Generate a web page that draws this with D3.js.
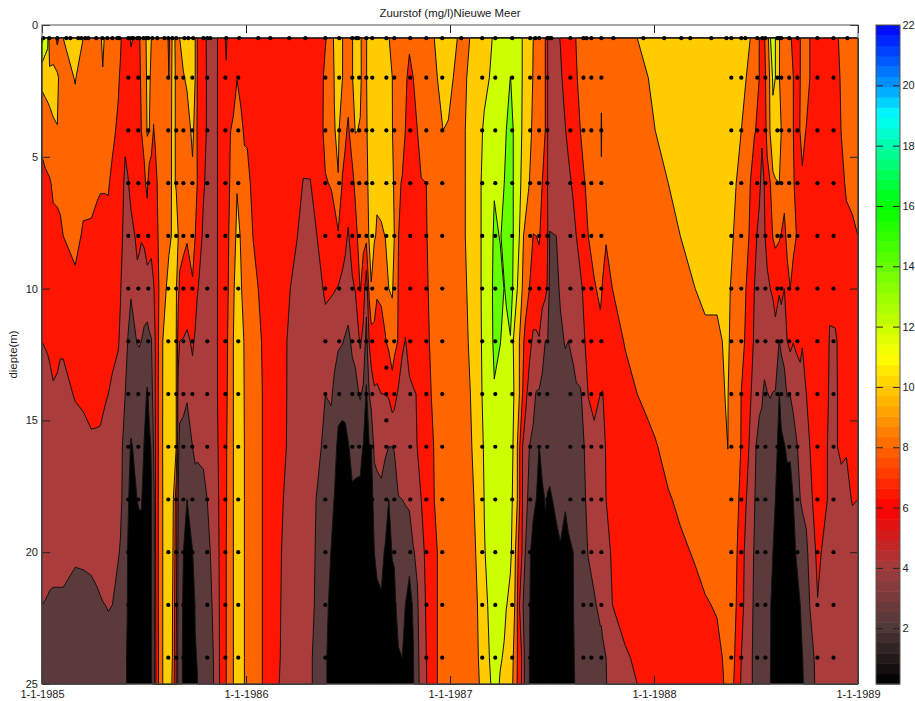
<!DOCTYPE html>
<html>
<head>
<meta charset="utf-8">
<script src="https://cdn.jsdelivr.net/npm/d3@7"></script>
<style>
  html, body { margin: 0; background: #fff; }
  text { font-family: "Liberation Sans", Arial, sans-serif; fill: #222; }
</style>
</head>
<body>
<div id="chart"></div>
<script>
var width = 915;
var height = 701;
var margin = {top: 25, right: 57, bottom: 17, left: 42};

var title = "Zuurstof (mg/l)Nieuwe Meer";
var yLabel = "diepte(m)";
var yearTicks = [1985, 1986, 1987, 1988, 1989];
var depthTicks = [0, 5, 10, 15, 20, 25];
var barTicks = [2, 4, 6, 8, 10, 12, 14, 16, 18, 20, 22];

// contour levels and the fill of the band above each one
var levels = [0, 2, 4, 6, 8, 10, 12, 14];
var levelColors = ["#000000", "#5a3a3a", "#aa3c3c", "#ff1500", "#ff6600", "#ffcc00", "#ccff00", "#66ff00"];

// colormap of the bar
var barStops = [0.2, 2, 4, 6, 8, 10, 11, 12, 14, 16, 18, 19, 20, 22];
var barColors = ["#000000", "#4d3838", "#a03c3c", "#ff0000", "#ff6600", "#ffcc00", "#ffff00", "#ccff00", "#66ff00", "#00ff00", "#00ffaa", "#00ffff", "#0099ff", "#0000ff"];

// where the oxygen was sampled
var sampleDepths = [2, 4, 6, 8, 10, 12, 14, 16, 18, 20, 22, 24];
var sampleYears = [1985.423, 1985.472, 1985.521, 1985.619, 1985.658, 1985.693, 1985.737, 1985.810, 1985.899, 1985.962,
  1986.389, 1986.457, 1986.521, 1986.555, 1986.590, 1986.619, 1986.688, 1986.727, 1986.805, 1986.884, 1986.962,
  1987.158, 1987.222, 1987.305, 1987.393, 1987.437, 1987.477, 1987.590, 1987.654, 1987.693, 1987.742,
  1988.379, 1988.428, 1988.506, 1988.546, 1988.605, 1988.624, 1988.663, 1988.703, 1988.801, 1988.880];
var surfaceYears = [1985.006, 1985.036, 1985.075, 1985.119, 1985.139, 1985.178, 1985.193, 1985.212, 1985.227, 1985.266,
  1985.296, 1985.320, 1985.345, 1985.369, 1985.379, 1985.423, 1985.438, 1985.448, 1985.467, 1985.477, 1985.497, 1985.511,
  1985.521, 1985.541, 1985.565, 1985.600, 1985.619, 1985.639, 1985.658, 1985.698, 1985.717, 1985.741, 1985.791, 1985.810,
  1985.825, 1985.903, 1985.967, 1986.060, 1986.119, 1986.212, 1986.291, 1986.389, 1986.457, 1986.521, 1986.540, 1986.550,
  1986.590, 1986.619, 1986.688, 1986.727, 1986.805, 1986.884, 1986.962, 1987.055, 1987.158, 1987.222, 1987.305, 1987.393,
  1987.418, 1987.437, 1987.477, 1987.487, 1987.497, 1987.590, 1987.654, 1987.669, 1987.693, 1987.742, 1987.801, 1987.948,
  1988.050, 1988.134, 1988.178, 1988.281, 1988.355, 1988.379, 1988.428, 1988.448, 1988.506, 1988.531, 1988.546, 1988.605,
  1988.614, 1988.624, 1988.663, 1988.703, 1988.801, 1988.880, 1988.948];
var surfaceDepth = 0.5;
var extraYear = 1986.688;
var extraDepths = [13, 15];

// oxygen: one profile per date, one value per depth
var depths = [0.5, 2, 4, 6, 8, 10, 12, 14, 16, 18, 20, 22, 24, 25];
var profileYears = [1985.000, 1985.016, 1985.028, 1985.037, 1985.055, 1985.075, 1985.090, 1985.104, 1985.163, 1985.202,
  1985.242, 1985.271, 1985.286, 1985.298, 1985.310, 1985.325, 1985.345, 1985.359, 1985.374, 1985.384,
  1985.394, 1985.408, 1985.421, 1985.436, 1985.467, 1985.477, 1985.487, 1985.501, 1985.516, 1985.526,
  1985.536, 1985.547, 1985.555, 1985.570, 1985.592, 1985.609, 1985.622, 1985.634, 1985.639, 1985.658,
  1985.668, 1985.675, 1985.693, 1985.711, 1985.738, 1985.751, 1985.761, 1985.791, 1985.810, 1985.840,
  1985.854, 1985.869, 1985.894, 1985.903, 1985.913, 1985.923, 1985.938, 1985.956, 1985.975, 1985.992,
  1986.006, 1986.036, 1986.060, 1986.080, 1986.119, 1986.168, 1986.198, 1986.217, 1986.251, 1986.281,
  1986.315, 1986.335, 1986.369, 1986.389, 1986.418, 1986.433, 1986.452, 1986.472, 1986.487, 1986.501,
  1986.521, 1986.536, 1986.560, 1986.575, 1986.590, 1986.604, 1986.614, 1986.629, 1986.642, 1986.663,
  1986.683, 1986.700, 1986.717, 1986.727, 1986.747, 1986.766, 1986.781, 1986.801, 1986.820, 1986.840,
  1986.859, 1986.884, 1986.908, 1986.923, 1986.938, 1986.966, 1986.992, 1987.016, 1987.036, 1987.075,
  1987.100, 1987.139, 1987.154, 1987.168, 1987.193, 1987.207, 1987.217, 1987.246, 1987.266, 1987.276,
  1987.296, 1987.310, 1987.330, 1987.340, 1987.354, 1987.369, 1987.389, 1987.408, 1987.423, 1987.437,
  1987.452, 1987.467, 1987.479, 1987.489, 1987.521, 1987.541, 1987.565, 1987.580, 1987.604, 1987.619,
  1987.639, 1987.658, 1987.678, 1987.707, 1987.737, 1987.742, 1987.747, 1987.765, 1987.796, 1987.859,
  1987.918, 1987.972, 1988.006, 1988.070, 1988.129, 1988.202, 1988.251, 1988.309, 1988.335, 1988.350,
  1988.362, 1988.369, 1988.389, 1988.403, 1988.428, 1988.452, 1988.472, 1988.492, 1988.516, 1988.529,
  1988.541, 1988.555, 1988.570, 1988.583, 1988.595, 1988.614, 1988.624, 1988.639, 1988.653, 1988.668,
  1988.683, 1988.698, 1988.717, 1988.727, 1988.747, 1988.764, 1988.786, 1988.802, 1988.820, 1988.850,
  1988.861, 1988.889, 1988.899, 1988.918, 1988.943, 1988.973, 1989.000];
var profiles = [
  [14.5,10.5,8.5,7.5,7,6.5,6,5.7,5.3,4.9,4.5,4,3.5,3.3],
  [13,10.6,9,7.6,7.1,6.6,6.05,5.7,5.3,4.9,4.5,3.95,3.5,3.3],
  [12.5,10.6,9.3,7.7,7.1,6.7,6.1,5.7,5.3,4.9,4.45,3.9,3.5,3.3],
  [8.5,10.6,9.5,7.8,7.2,6.8,6.2,5.7,5.3,4.9,4.4,3.85,3.5,3.3],
  [9,10.5,9.83,8.3,7.5,7.2,6.6,5.8,5.4,5,4.4,3.8,3.5,3.3],
  [7.5,10.4,9.95,8.5,7.4,7,6.3,5.8,5.4,5,4.4,3.8,3.5,3.3],
  [8.5,9.4,9.5,8.6,7.6,7.1,6.15,5.7,5.3,4.9,4.4,3.8,3.5,3.3],
  [10,9.2,9,8.5,8,7,6.2,5.6,5.3,4.9,4.4,3.8,3.5,3.3],
  [11,10.1,9.3,8.9,8.5,7.6,6.7,6.1,5.4,5,4.2,3.5,3.1,3],
  [10,9,8.8,8.5,7.8,7.1,6.5,6.2,5.6,5,4.2,3.6,3.1,3],
  [9.3,9,8.8,8.4,7.8,7.3,6.9,6.4,5.8,5.2,4.4,3.5,3.1,3],
  [9.3,9,8.7,8.2,7.6,7.2,6.8,6.35,5.8,5.3,4.6,3.7,3.1,3],
  [9.4,9.1,8.7,8.1,7.6,7.2,6.8,6.3,5.8,5.3,4.7,3.85,3.1,3],
  [10.8,9.7,8.7,8.1,7.6,7.2,6.8,6.2,5.7,5.2,4.7,3.95,3.1,3],
  [9.4,9.1,8.7,8.1,7.6,7.1,6.7,6.1,5.6,5.1,4.7,4,3.1,3],
  [9.3,9,8.7,8.15,7.5,7,6.5,6,5.4,5,4.6,4.1,3.3,3],
  [9.2,8.9,8.4,7.6,7,6.7,6.3,5.8,5.3,4.9,4.5,4,3.2,3],
  [9.1,8.6,8.05,7.3,6.9,6.6,6.2,5.7,5.2,4.8,4.3,3.8,3,2.8],
  [9,8.3,7.6,7.1,6.7,6.4,6.1,5.5,5,4.6,4.1,3.5,2.8,2.6],
  [8.4,7.7,7.2,6.9,6.5,6.1,5.8,5.3,4.8,4.3,3.9,3.2,2.6,2.5],
  [7.5,7,6.7,6.5,6.05,5.7,5.3,4.7,4,3.9,3.3,2.7,2.3,2.2],
  [7.3,7,6.5,5.5,5.2,5,4.6,4,3.4,3,2.8,2.4,2.1,2.1],
  [7.4,7,6.6,5.9,5.1,4.5,3.95,3.5,2.8,2.2,1.9,1.9,1.9,1.9],
  [8.2,7.3,6.9,6.4,5.6,4.1,3.6,3,1.8,1.4,1.4,1.4,1.4,1.4],
  [7.6,7.1,6.8,6.5,6.25,5.7,4.05,3.3,2.6,2.02,1.5,1.2,1.2,1.2],
  [7.8,7.6,7.3,6.8,6.2,5.6,4.1,3.2,2.8,2.1,1.6,1.3,1.3,1.3],
  [8.6,8.3,8,7.2,6.1,5.3,4,3.2,2.9,2.1,1.6,1.3,1.3,1.3],
  [8.8,8.5,8.4,7.7,6.3,5,3.6,2.6,1.9,1.5,1.3,1.3,1.3,1.3],
  [10.8,10.5,10.2,8.4,7,5.2,3.3,1.8,1.2,1.2,1.2,1.2,1.2,1.2],
  [10.6,10.3,10,6.8,6.7,5.3,3.7,2.4,1.7,1.4,1.4,1.4,1.4,1.4],
  [10,9.6,9,6.9,6.3,5.6,3.9,3.5,2.1,1.9,1.9,1.9,1.9,1.9],
  [9.4,8.8,7.9,7.2,6.6,5.9,5,4.5,4.1,3,2.8,2.7,2.6,2.6],
  [9,8.9,8.3,7.3,6.9,6.3,6,6,5.9,5.8,5.7,5.6,5.5,5.5],
  [8.9,8.8,8.6,8.4,8.1,7.8,7.9,8,8,8,8,8,7.9,7.9],
  [9,9,8.9,8.9,9,9.3,10,10.02,10.05,10,10,10,10,10],
  [9,9.1,9,9.2,9.3,10,10.8,11,11,11,11,11,11,11],
  [7.5,8,9.2,9.4,9.7,10.5,11,11.1,11.1,11.1,11.1,11.1,11,11],
  [9.5,9.8,9.9,9.95,10,10.8,11.1,11.2,11.2,11,10.8,10.5,10.3,10.2],
  [10.2,10.3,10.3,10.3,10.2,11,11.2,11.3,11.2,11,10.6,10.2,10,9.8],
  [9.9,9.9,9.9,9.9,10.6,10.2,10,10,10,7,6.7,6.4,6,6],
  [9,9,9,9.1,10,8.4,7,5,4.4,3.9,3.5,3.4,3.3,3.3],
  [10,9.3,9.2,9.2,8.6,7.7,6,4.6,3.5,3,2.9,2.8,2.8,2.8],
  [10.5,9.9,9.2,9.1,8.3,7.5,5.9,4.3,3.6,2.9,2,1.8,1.7,1.7],
  [10.6,10.2,9.4,8.8,8.1,7.4,5.6,4.1,3.5,2,1.2,1,1,1],
  [10.8,10.5,10.3,9.7,8.7,7.8,6.3,5.2,4,3.3,1.95,1.2,1.1,1.1],
  [10,10,9.5,8.9,8,7,5.7,5,4.2,3.6,2.8,2.1,1.9,1.8],
  [8,8,7.8,8,7.2,6.1,5.5,4.9,4.2,3.5,3,2.5,2.05,1.95],
  [7,7.2,7,6.2,5.7,5.5,5.2,4.9,4.3,3.6,3.5,3.3,3.1,3],
  [5.6,5.7,5.7,5.6,5.5,5.4,5.2,5,4.7,4,3.6,3.3,3.1,3],
  [5.3,5.2,5.2,5.2,5.2,5.2,5.1,5,4.9,4.6,4.4,4.2,4,3.9],
  [5.8,5.8,5.8,5.8,5.8,5.8,5.8,5.8,5.7,5.6,5.5,5.4,5.3,5.3],
  [6.3,6.3,6.3,6.3,6.3,6.3,6.3,6.3,6.2,6.1,6.05,6,5.95,5.9],
  [7.5,7.4,7.2,7.1,7.2,7.3,7.4,7.4,7.4,7.4,7.4,7.4,7.4,7.4],
  [8.5,7.6,7.4,7.4,7.6,7.7,7.8,7.8,7.9,7.9,8,8,8,8],
  [7,7.1,7.2,7.3,7.8,8,8.1,8.2,8.3,8.4,8.5,8.5,8.5,8.5],
  [6.8,7,7.95,8.3,8.6,8.7,8.9,9,9.1,9.2,9.3,9.3,9.3,9.3],
  [6.8,7.2,8.3,8.7,9.2,9.7,10,10,10,10,10,10,10,10],
  [6.7,7.95,9,9.9,10.4,11,11,11,11,11,11,11,11,11],
  [6.8,7.5,8.4,8.8,9.9,10.1,10.6,10.7,10.8,10.9,11,11,11,11],
  [6.6,7.2,7.8,8.5,9,9.6,9.9,9.95,10,10,10,10,10,10],
  [6.5,7,7.85,8.3,8.6,9.2,9.4,9.4,9.5,9.5,9.5,9.5,9.5,9.5],
  [6.5,6.9,7.3,7.7,7.95,8.4,8.9,9,9,9,9,9,9,9],
  [6.5,6.7,6.9,7.2,7.5,8,8.4,8.5,8.6,8.6,8.6,8.6,8.6,8.6],
  [6.5,6.6,6.8,6.9,7.1,7.5,7.9,8,8,8,8,8,8,8],
  [6.5,6.6,6.7,6.8,6.9,7,7.2,7.3,7.3,7.2,7,6.8,6.5,6.4],
  [6.5,6.5,6.6,6.7,6.7,6.6,6.5,6.4,6.3,6.2,6.1,6.05,6,5.95],
  [6.5,6.5,6.5,6.5,6.4,6.3,6.05,6.05,6,5.8,5.6,5.5,5.4,5.3],
  [6.5,6.5,6.5,6.4,6.3,6,5.7,5.6,5.5,5.3,5.2,5,4.9,4.8],
  [6.6,6.6,6.5,6.4,6.02,5.6,5.3,5.2,5.1,5,4.9,4.8,4.6,4.5],
  [6.7,6.6,6.5,5.95,5.5,5.1,5,5,4.9,4.8,4.6,4.5,4.4,4.3],
  [6.8,6.8,6.6,5.95,5.6,5.2,5,4.8,4.6,4.4,4.3,4.2,4.1,4.1],
  [7.1,7,6.8,6.4,5.7,5.2,4.9,4.4,4.2,4.1,4.05,4,3.9,3.9],
  [7.6,7.7,7.7,7.7,6.5,5.8,5,4.5,4,3.7,3.6,3.5,3.4,3.4],
  [7.9,8.3,8.4,7.9,7.1,6.3,5.3,4.02,3.2,2.9,2.6,2.4,2.2,2.2],
  [8.6,8.8,8.9,8.1,7.3,6.15,5.2,4.2,3.3,2.4,1.95,1.6,1.4,1.4],
  [10.6,10.1,9.9,8.4,7.5,6.1,4.6,3.6,2.6,1.95,1.4,1.2,1,1],
  [11,10.8,10.4,9.9,7.8,5.9,4.3,2.6,1.6,1.2,1.1,1,1,1],
  [10.1,10.1,8.6,7.9,6.6,5.7,4.1,2.5,1.5,1.2,1.1,1,1,1],
  [9.2,9.1,8.2,7.6,6.4,5.3,3.8,2.6,1.5,1.2,1.1,1,1,1],
  [8.8,8.6,7.8,7,5.8,4.9,3.6,2.9,1.9,1.5,1.2,1.1,1.1,1.1],
  [9.9,9.9,8.7,7.6,6.9,5.7,4.3,3.3,2.4,1.8,1.3,1.1,1.1,1.1],
  [10.8,10.8,10.1,8.3,7.5,6.1,4.5,3.5,2.3,1.8,1.3,1.1,1.1,1.1],
  [10.3,10.3,9.9,8.9,8.7,8.1,6.3,4.2,2.5,1.6,1.2,1.1,1.1,1.1],
  [9.3,9.4,9.3,9.2,8.4,7.2,5.3,3.7,1.9,1.3,1.1,1.1,1.1,1.1],
  [9.9,9.9,9.7,9.1,8.5,4.7,3.4,1.7,1.2,1.1,1.1,1.1,1.1,1.1],
  [10.9,10.9,10.9,10.8,10.3,8.5,6.1,4,1.9,1.3,1.1,1.1,1.1,1.1],
  [11,11,11,10.9,10.7,9.9,7.1,4.9,1.9,1.3,1.2,1.1,1.1,1.1],
  [11.2,11.2,11.1,11,10.2,8.5,7.7,5.7,4.6,2.6,2,1.2,1.1,1.1],
  [11.2,11.3,11,10.3,9.8,8.2,7.2,5.7,4.5,3.4,2.9,1.1,1.1,1.1],
  [11.1,11.2,11,10.8,9.7,8.2,7.6,6,4.6,3.6,2.5,1.8,1.4,1.3],
  [10.8,11,11,10.8,10.05,8.6,7.9,6,4.3,2.9,1.8,1.2,1.1,1.1],
  [10.05,10.5,10.7,10.5,10.2,10,8.4,6.2,4,2,1.3,1.1,1.1,1.1],
  [9.6,10,10.05,10.3,10.5,10.2,9.1,7.1,4,3.3,2.1,1.4,1.3,1.3],
  [9.2,9.5,9.6,9.8,10,9.4,8.5,6.8,4.1,3.1,2.2,1.5,1.2,1.1],
  [9,9.2,9.1,8.2,8.05,7.9,7.9,5.7,4.7,3.95,3.3,2.8,1.8,1.7],
  [9,9.1,8.6,7.9,7.2,7,6.3,5.2,4.5,4,3.5,2.9,2,1.9],
  [9,8.2,8,7.6,7,6.6,5.95,5.5,4.9,4.05,3.6,2,1.7,1.6],
  [8.2,7.7,7.3,7,6.8,6.6,6.4,5.8,5,4.4,2.5,1.4,1.2,1.2],
  [9,8,7.8,7.5,7.3,7,6.7,5.9,5.3,4.8,3.9,2.2,1.9,1.8],
  [9.5,8.8,8,7.6,7.4,7.2,6.8,6.05,6.05,5,4.3,3.8,3.5,3.4],
  [9.7,9.3,8.9,7.9,7.6,7.4,7.2,6.9,6.5,6,5.4,5,4.8,4.7],
  [9.8,9.6,9.2,8,7.9,7.7,7.5,7.1,7,6.7,6.4,6.2,6,5.9],
  [9.9,9.7,9.5,8.8,8.6,8.5,8.3,8,7.6,7.4,7.3,7.1,7,7],
  [10,9.8,9.5,9.1,8.9,8.7,8.6,8.3,8.1,8,7.8,7.6,7.4,7.4],
  [10.2,10,9.6,9.2,9,9,8.9,8.7,8.5,8.2,8,8,8,8],
  [10.8,10.4,10,9.5,9.3,9.2,9.2,9,9,9,9,9,9,9],
  [11,10.4,9.9,9.5,9.3,9.2,9.2,9.1,9,9,9,9,9,9],
  [10.6,10,9.5,9.3,9.2,9.2,9.2,9.2,9.1,9.1,9,9,9,9],
  [10,9.6,9.3,9.2,9.2,9.2,9.2,9.2,9.1,9.1,9,9,9,9],
  [9.3,9.8,10,10,10,9.8,9.6,9.4,9.3,9.2,9.1,9,8.9,8.9],
  [10.1,10.5,10.6,10.6,10.6,10.5,10.3,10,9.8,9.6,9.4,9.2,9,9],
  [10.4,11,11.5,11.6,11.6,11.6,11.4,11.1,10.9,10.5,10.3,10.1,10,9.9],
  [10.6,11.2,11.8,12.05,12.05,12.05,12,11.9,11.6,11.2,11,10.6,10.3,10.2],
  [10.8,11.5,12.3,12.5,12.6,12.6,12.5,12.4,12.2,12.05,11.9,11.4,10.9,10.7],
  [11.7,12,12.8,13,13,13,12.8,12.8,12.8,12.6,12.5,12.3,12,11.7],
  [12,12.4,13,13.4,13.7,13.9,13.8,13.4,13.2,13,12.9,12.7,12.5,12.3],
  [12.3,12.6,13.2,13.8,14.4,14.8,14.5,13.8,13.4,13.2,13,12.9,12.7,12.5],
  [12.5,13,13.5,13.9,13.9,14.6,14.05,13.4,13.1,12.8,12.6,12.4,12.1,11.9],
  [12.6,13.2,13.8,14,14.4,13.95,13.6,13.2,13,12.8,12.5,12.2,11.9,11.7],
  [12.7,13.4,14,14.4,14.8,14.2,13.6,13.2,13,12.8,12.4,12.05,11.4,11.2],
  [13.2,14.02,14.8,15,15,14.4,13.95,13.2,12.9,12.6,12.2,11.7,11,10.9],
  [13,13.8,14,14,14,13.9,12,12.2,11.9,11.7,11.6,11.2,10,9.8],
  [13,13,13,12.8,12.2,12,11,11,10,10,8.6,8,8,7.9],
  [12.8,12.8,12.6,12.4,12,11.5,10,10,8.3,8.3,7.2,6.1,6.9,6.8],
  [12,12,11.9,11.6,10.3,10,8.8,8.2,6.1,6.1,5.9,4.2,5.8,5.7],
  [11.4,11.3,11.1,10.9,9.6,9.2,7.3,6.6,5.2,4.9,4,3.5,3.2,3.2],
  [10.8,10.7,10.4,10,9.2,8,6.6,5.2,4,3.3,2.2,2.1,2,2],
  [10,9.9,9.7,9.2,7.95,7.4,5.6,4.4,3.7,2.3,1.5,1.4,1.3,1.3],
  [9.4,9.4,9.2,8.7,8,7.1,5.7,3.9,3,2,1.2,1.1,1.1,1.1],
  [9,9,8.9,8.5,8.2,7,5.9,3.8,1.95,1.2,1.1,1.1,1.1,1.1],
  [8.9,8.8,8.6,8,7.3,6.7,4.8,3.5,2.7,1.6,1.1,1.1,1.1,1.1],
  [8,8,8,7.4,6.8,6.5,4,3.1,2.4,2.1,1.6,1.1,1.1,1.1],
  [6,6,6,5.9,6.05,5.8,3.9,3.2,2.6,1.9,1.5,1.1,1.1,1.1],
  [5.6,5.6,5.5,5,3.9,3.4,3.3,3,2.6,1.8,1.5,1.1,1.1,1.1],
  [5.7,5.4,5.2,4.9,4,3.6,3.3,2.9,2.5,2.3,1.6,1.1,1.1,1.1],
  [6.05,5.8,5.3,5,4.6,4.2,3.7,3.1,2.7,2.4,1.9,1.2,1.1,1.1],
  [6.8,6.4,5.95,5.4,5,4.6,4.1,3.4,2.8,2.15,1.5,1.1,1.1,1.1],
  [7,6.8,6.3,5.7,5.2,4.8,4,3.6,3.1,2.5,1.7,1.2,1.1,1.1],
  [7.7,7.3,6.8,6.2,5.6,5.1,4.3,3.6,3,2.6,2,1.95,1.9,1.9],
  [8.05,7.9,7.4,6.6,6,5.5,4.7,3.8,3.2,2.9,2.5,2.4,2.2,2.1],
  [8.5,8.3,8,7.5,6.6,5.7,4.7,3.9,3.6,3.4,3.1,2.9,2.5,2.4],
  [8.8,8.7,8.6,7.9,7.3,6.3,5.9,4.3,4,3.9,3.7,3.4,3,2.9],
  [8.9,8.8,8.7,8.4,8,6.9,6.5,6.1,4.6,4.2,4.05,3.6,3.2,3.1],
  [9,9,8.9,8.7,8.4,7.9,7,6.5,5.5,4.5,4.3,3.9,3.3,3.2],
  [9.1,9.1,9,8.9,8.7,8.2,7.7,6,5,4.7,4.5,4.2,3.7,3.6],
  [9.1,9.2,10.4,9.6,8.6,8.1,7.6,6,5,4.7,4.5,4.2,3.7,3.6],
  [9.1,9.1,9.1,9,8.3,7.95,7.5,5.9,5,4.8,4.6,4.3,3.8,3.7],
  [9.2,9.2,9.2,9,8.1,7.5,7.2,6.6,6.2,6,5.5,4.6,4,3.9],
  [9.2,9.2,9.2,9,8.6,8,7.3,7,6.8,6.4,6.2,6,5,4.9],
  [9.5,9.6,9.4,9.2,9,8.7,8.1,7.5,7.1,6.9,6.8,6.5,5.85,5.5],
  [10,9.7,9.6,9.3,9.2,8.9,8.4,8,7.4,7.2,7,6.7,6.2,6],
  [10.5,10,9.8,9.5,9.4,9.1,8.7,8.3,7.7,7.4,7.2,7,6.6,6.4],
  [10.7,10.3,10,9.7,9.5,9.2,8.9,8.5,7.9,7.6,7.3,7,6.7,6.5],
  [10.9,10.5,10.3,10,9.6,9.3,9.1,8.8,8.4,7.9,7.5,7.2,6.9,6.7],
  [11,10.8,10.5,10.3,10,9.5,9.2,9,8.7,8.2,7.8,7.4,7,6.9],
  [11.2,11,10.8,10.5,10.2,10,9.5,9.2,9,8.6,8.1,7.7,7.3,7.2],
  [11.3,11.1,10.9,10.6,10.4,10.2,9.8,9.3,9.1,8.8,8.4,7.9,7.5,7.3],
  [11.2,11,10.9,10.7,10.5,10.2,9.8,9.5,9.2,8.9,8.5,8.1,7.7,7.6],
  [11.1,10.9,10.8,10.7,10.5,10.3,10,9.5,9.2,9,8.6,8.2,8,7.9],
  [11,10.8,10.7,10.6,10.5,10.4,10.3,10.1,9.6,9.3,9.1,8.8,8.2,8.1],
  [10.9,10.7,10.6,10.5,10.4,10.3,10.1,10.1,10.02,9.6,9.3,9,8.5,8.4],
  [10.9,10.7,10.5,10.3,10.2,10.1,10,9.6,9.5,9.4,9.2,9,8.8,8.7],
  [10.7,10.5,10.3,10.1,10,9.7,9.4,9.3,9.2,9.1,8.9,8.6,8.3,8.1],
  [10.5,10.4,10.2,10,9.8,9.5,9.2,9,8.9,8.8,8.2,8,7.6,7.3],
  [10.4,10.2,10,9.7,9.4,9,8.8,7.95,7.9,7.2,7,6.9,6,5.8],
  [10.2,10,9.6,9.1,8.6,7.95,7.6,7.1,6.8,6.05,5.3,5,4.8,4.7],
  [10,9.6,9.2,8,7.7,7.3,6.9,6.2,5.6,5,4.5,4.4,4.2,4.2],
  [9.2,8.8,8.1,7.3,6.6,6,5.7,5.2,4.2,4.1,3.9,3.8,3.8,3.8],
  [8,8,7.7,6.5,5.4,5.2,4.8,4.3,3.6,3.2,3,2.9,2.9,2.9],
  [7.6,7.4,6.3,5.4,5.2,5,4.6,4.2,3.4,3,2.9,2.8,2.7,2.7],
  [7.9,7.7,7.4,6.05,5.85,5.2,4.8,3.7,3.2,2.9,2.7,2.5,2.5,2.5],
  [8.7,8.4,8.4,7.6,6.5,5.7,5,3.95,3.2,2.7,2.4,2.2,2.2,2.2],
  [11.9,10.5,10.2,8,7.1,6,5.4,4.1,2.9,2.4,2.3,2.05,2.05,2],
  [13,12.3,11.4,9.6,8.1,6.2,5.2,3.95,2.9,2.3,2,1.8,1.7,1.7],
  [12,12,11,9.9,8.4,6.7,5.4,3.9,2.7,2,1.7,1.5,1.5,1.5],
  [10.1,10.05,10.3,10,8.2,6.3,3.95,1.95,1.3,1.1,1.1,1.1,1.1,1.1],
  [9.5,9.6,10,9.6,7.9,6.7,4.4,2.8,1.6,1.2,1.1,1.1,1.1,1.1],
  [9,9,8.9,8.4,7.7,6,4.6,3.4,1.9,1.2,1.1,1.1,1.1,1.1],
  [8.9,8.8,8.7,8.5,8.3,7.6,6,4.1,2.3,1.3,1.1,1.1,1.1,1.1],
  [8.2,8.3,8.3,8.2,8.2,8,6.5,4.05,2.2,1.5,1.1,1.1,1.1,1.1],
  [7.6,8,8,8.1,8.2,7.7,6.05,4.6,3,2,1.7,1.2,1.1,1.1],
  [7.3,7.5,7.6,7.7,8,7.4,6.3,5,3.8,2.3,2.1,1.5,1.3,1.3],
  [8,8,8.05,7.5,7,6.8,6.4,5.4,4.5,4,3,2,1.9,1.9],
  [9,9,8.6,7.7,7.1,6.9,6.1,5.3,4.8,4.2,3.3,2.4,1.95,1.9],
  [9,8.9,7.9,7.5,7.2,7,6.7,6,5,4.4,3.7,3,2.4,2.3],
  [8,8,7.6,7.4,7.3,7.2,7,6.6,6,5.6,4.5,4.05,3.2,3],
  [7.6,7.5,7.4,7.3,7.3,7.3,7.2,7,6.7,6.3,5.8,5,4.05,3.9],
  [7.5,7.4,7.4,7.3,7.3,7.4,7.4,7.2,7,6.7,6.3,5.95,5,4.8],
  [7.4,7.3,7.3,7.3,7.3,7.4,7.4,7.2,6.9,6.4,6,5.5,5,4.8],
  [7.3,7.3,7.2,7.2,7.3,7.2,7,6.5,6,6,5.3,5,4.9,4.7],
  [7.3,7.2,7.2,7.2,7.2,6.7,5.7,5.5,5.4,5.3,5.1,5,4.9,4.8],
  [7.2,7.2,7.2,7.2,7,6.6,5.8,5.6,5.5,5.3,5.2,5,4.9,4.8],
  [7.9,7.9,7.7,7.5,7.3,7,6.05,6,6,5.7,5.3,5.1,5,4.9],
  [8.3,8.05,8.02,7.8,7.5,7.2,6.8,6.4,6.1,5.8,5.4,5.2,5,5],
  [8.5,8.4,8.3,8.1,7.8,7.4,7,6.7,6.05,5.8,5.5,5.2,5.1,5],
  [8.7,8.6,8.5,8.3,7.8,7.5,7.2,6.9,6.4,6.05,5.6,5.2,5.1,5.1],
  [8.8,8.7,8.6,8.4,8,7.6,7.4,7,6.5,6,5.6,5.3,5.2,5.1]
];

var xScale = d3.scaleLinear().domain([1985, 1989]).range([margin.left, width - margin.right]);
var yScale = d3.scaleLinear().domain([0, 25]).range([margin.top, height - margin.bottom]);
var barScale = d3.scaleLinear().domain([22, 0.15]).range([margin.top, height - margin.bottom]);
var barColor = d3.scaleLinear().domain(barStops).range(barColors);

// d3.contours puts grid point i at i + 0.5, map those back to dates and depths
var xFromGrid = d3.scaleLinear().domain(profileYears.map((d, i) => i + 0.5)).range(profileYears.map(xScale)).clamp(true);
var yFromGrid = d3.scaleLinear().domain(depths.map((d, i) => i + 0.5)).range(depths.map(yScale)).clamp(true);
var gridPath = d3.geoPath(d3.geoTransform({
  point: function(x, y) { this.stream.point(xFromGrid(x), yFromGrid(y)); }
}));

var svg = d3.select("#chart").append("svg").attr("width", width).attr("height", height).style("display", "block");

///////////////////////////////////////////////////////////////////////////////////
// filled contours
var grid = [];
depths.forEach((d, j) => profiles.forEach(p => grid.push(p[j])));
var contours = d3.contours().size([profileYears.length, depths.length]).thresholds(levels)(grid);

svg.append("g").selectAll("path")
  .data(contours)
  .enter()
  .append("path")
  .attr("d", gridPath)
  .attr("fill", (d, i) => levelColors[i])
  .attr("stroke", "#111")
  .attr("stroke-width", 1)
  .attr("stroke-linejoin", "round");

///////////////////////////////////////////////////////////////////////////////////
// sample points
var dots = [];
surfaceYears.forEach(y => dots.push([y, surfaceDepth]));
sampleYears.forEach(y => sampleDepths.forEach(d => dots.push([y, d])));
extraDepths.forEach(d => dots.push([extraYear, d]));

svg.append("g").selectAll("circle")
  .data(dots)
  .enter()
  .append("circle")
  .attr("cx", d => xScale(d[0]))
  .attr("cy", d => yScale(d[1]))
  .attr("r", 2.1)
  .attr("fill", "#000");

///////////////////////////////////////////////////////////////////////////////////
// axes, ticks point inwards on all four sides
var plotW = width - margin.left - margin.right;
var plotH = height - margin.top - margin.bottom;
var yearLabel = d => "1-1-" + d;

function style_axis(g) {
  g.select(".domain").remove();
  g.selectAll("line").attr("stroke", "#222");
  g.selectAll("text").attr("font-size", 11).style("font-family", '"Liberation Sans", Arial, sans-serif').attr("fill", "#222");
}

svg.append("g").attr("transform", "translate(0," + (height - margin.bottom) + ")")
  .call(d3.axisBottom(xScale).tickValues(yearTicks).tickFormat(yearLabel).tickSizeInner(-8).tickSizeOuter(0).tickPadding(6))
  .call(style_axis);
svg.append("g").attr("transform", "translate(0," + margin.top + ")")
  .call(d3.axisTop(xScale).tickValues(yearTicks).tickFormat("").tickSizeInner(-8).tickSizeOuter(0))
  .call(style_axis);
svg.append("g").attr("transform", "translate(" + margin.left + ",0)")
  .call(d3.axisLeft(yScale).tickValues(depthTicks).tickSizeInner(-8).tickSizeOuter(0).tickPadding(4))
  .call(style_axis);
svg.append("g").attr("transform", "translate(" + (width - margin.right) + ",0)")
  .call(d3.axisRight(yScale).tickValues(depthTicks).tickFormat("").tickSizeInner(-8).tickSizeOuter(0))
  .call(style_axis);

svg.append("rect")
  .attr("x", margin.left).attr("y", margin.top)
  .attr("width", plotW).attr("height", plotH)
  .attr("fill", "none").attr("stroke", "#555").attr("stroke-width", 1);

svg.append("text")
  .attr("x", margin.left + plotW / 2).attr("y", 17)
  .attr("text-anchor", "middle").attr("font-size", 11.4)
  .text(title);

svg.append("text")
  .attr("transform", "translate(17," + (margin.top + plotH / 2) + ") rotate(-90)")
  .attr("text-anchor", "middle").attr("font-size", 11.4)
  .text(yLabel);

///////////////////////////////////////////////////////////////////////////////////
// colour bar
var barX = 876;
var barW = 24;
var barSteps = d3.range(64).map(i => 0.15 + (22 - 0.15) * i / 64);
var barStep = (22 - 0.15) / 64;

svg.append("g").selectAll("rect")
  .data(barSteps)
  .enter()
  .append("rect")
  .attr("x", barX)
  .attr("y", d => barScale(d + barStep))
  .attr("width", barW)
  .attr("height", barScale(0) - barScale(barStep) + 0.5)
  .attr("fill", d => barColor(d + barStep / 2));

svg.append("g").attr("transform", "translate(" + (barX + barW) + ",0)")
  .call(d3.axisRight(barScale).tickValues(barTicks).tickSizeInner(-7).tickSizeOuter(0).tickPadding(2.5))
  .call(style_axis);
svg.append("g").attr("transform", "translate(" + barX + ",0)")
  .call(d3.axisLeft(barScale).tickValues(barTicks).tickFormat("").tickSizeInner(-7).tickSizeOuter(0))
  .call(style_axis);

svg.append("rect")
  .attr("x", barX).attr("y", margin.top)
  .attr("width", barW).attr("height", plotH)
  .attr("fill", "none").attr("stroke", "#555").attr("stroke-width", 1);
</script>
</body>
</html>
